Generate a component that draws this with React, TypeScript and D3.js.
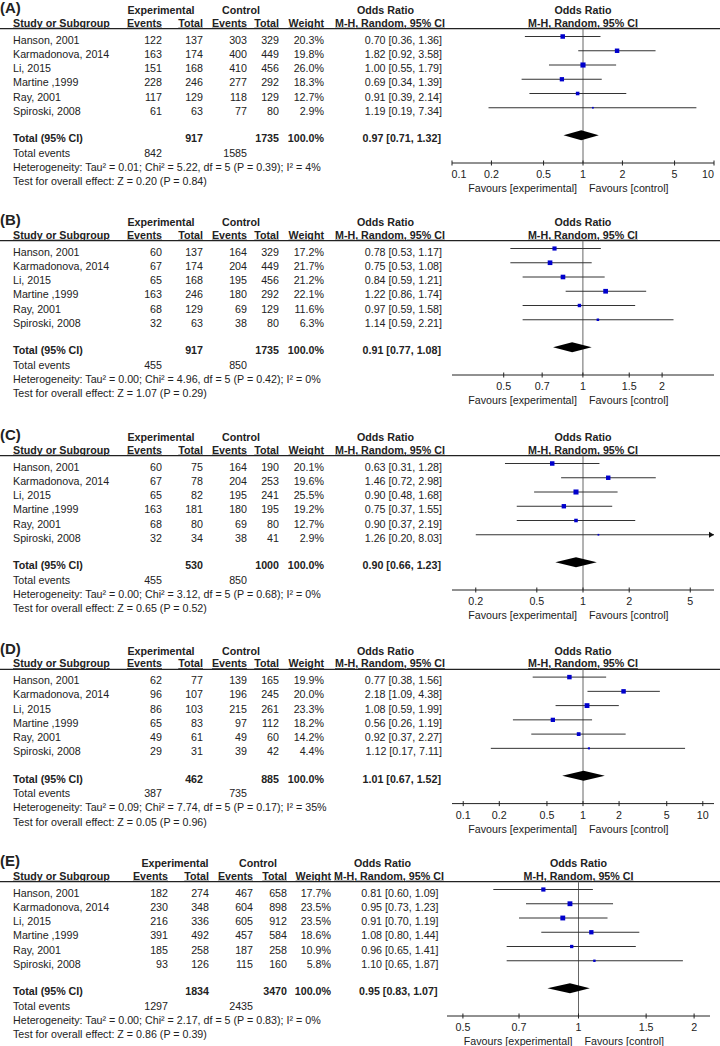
import React from 'react'
import * as d3 from 'd3'

const studies = ['Hanson, 2001', 'Karmadonova, 2014', 'Li, 2015', 'Martine ,1999', 'Ray, 2001', 'Spiroski, 2008']

// each row: [exp events, exp total, ctrl events, ctrl total, weight %, OR, lower, upper]
const rowsA = [
  [122, 137, 303, 329, 20.3, 0.70, 0.36, 1.36],
  [163, 174, 400, 449, 19.8, 1.82, 0.92, 3.58],
  [151, 168, 410, 456, 26.0, 1.00, 0.55, 1.79],
  [228, 246, 277, 292, 18.3, 0.69, 0.34, 1.39],
  [117, 129, 118, 129, 12.7, 0.91, 0.39, 2.14],
  [61, 63, 77, 80, 2.9, 1.19, 0.19, 7.34],
]
const rowsB = [
  [60, 137, 164, 329, 17.2, 0.78, 0.53, 1.17],
  [67, 174, 204, 449, 21.7, 0.75, 0.53, 1.08],
  [65, 168, 195, 456, 21.2, 0.84, 0.59, 1.21],
  [163, 246, 180, 292, 22.1, 1.22, 0.86, 1.74],
  [68, 129, 69, 129, 11.6, 0.97, 0.59, 1.58],
  [32, 63, 38, 80, 6.3, 1.14, 0.59, 2.21],
]
const rowsC = [
  [60, 75, 164, 190, 20.1, 0.63, 0.31, 1.28],
  [67, 78, 204, 253, 19.6, 1.46, 0.72, 2.98],
  [65, 82, 195, 241, 25.5, 0.90, 0.48, 1.68],
  [163, 181, 180, 195, 19.2, 0.75, 0.37, 1.55],
  [68, 80, 69, 80, 12.7, 0.90, 0.37, 2.19],
  [32, 34, 38, 41, 2.9, 1.26, 0.20, 8.03],
]
const rowsD = [
  [62, 77, 139, 165, 19.9, 0.77, 0.38, 1.56],
  [96, 107, 196, 245, 20.0, 2.18, 1.09, 4.38],
  [86, 103, 215, 261, 23.3, 1.08, 0.59, 1.99],
  [65, 83, 97, 112, 18.2, 0.56, 0.26, 1.19],
  [49, 61, 49, 60, 14.2, 0.92, 0.37, 2.27],
  [29, 31, 39, 42, 4.4, 1.12, 0.17, 7.11],
]
const rowsE = [
  [182, 274, 467, 658, 17.7, 0.81, 0.60, 1.09],
  [230, 348, 604, 898, 23.5, 0.95, 0.73, 1.23],
  [216, 336, 605, 912, 23.5, 0.91, 0.70, 1.19],
  [391, 492, 457, 584, 18.6, 1.08, 0.80, 1.44],
  [185, 258, 187, 258, 10.9, 0.96, 0.65, 1.41],
  [93, 126, 115, 160, 5.8, 1.10, 0.65, 1.87],
]

// totals: [exp total, ctrl total, exp events, ctrl events, OR, lower, upper]
const totalA = [917, 1735, 842, 1585, 0.97, 0.71, 1.32]
const totalB = [917, 1735, 455, 850, 0.91, 0.77, 1.08]
const totalC = [530, 1000, 455, 850, 0.90, 0.66, 1.23]
const totalD = [462, 885, 387, 735, 1.01, 0.67, 1.52]
const totalE = [1834, 3470, 1297, 2435, 0.95, 0.83, 1.07]

const statsA = ['Heterogeneity: Tau² = 0.01; Chi² = 5.22, df = 5 (P = 0.39); I² = 4%', 'Test for overall effect: Z = 0.20 (P = 0.84)']
const statsB = ['Heterogeneity: Tau² = 0.00; Chi² = 4.96, df = 5 (P = 0.42); I² = 0%', 'Test for overall effect: Z = 1.07 (P = 0.29)']
const statsC = ['Heterogeneity: Tau² = 0.00; Chi² = 3.12, df = 5 (P = 0.68); I² = 0%', 'Test for overall effect: Z = 0.65 (P = 0.52)']
const statsD = ['Heterogeneity: Tau² = 0.09; Chi² = 7.74, df = 5 (P = 0.17); I² = 35%', 'Test for overall effect: Z = 0.05 (P = 0.96)']
const statsE = ['Heterogeneity: Tau² = 0.00; Chi² = 2.17, df = 5 (P = 0.83); I² = 0%', 'Test for overall effect: Z = 0.86 (P = 0.39)']

const ticksA = [0.1, 0.2, 0.5, 1, 2, 5, 10]
const ticksB = [0.5, 0.7, 1, 1.5, 2]
const ticksC = [0.2, 0.5, 1, 2, 5]
const ticksD = [0.1, 0.2, 0.5, 1, 2, 5, 10]
const ticksE = [0.5, 0.7, 1, 1.5, 2]

const domainA = [0.1, 10]
const domainB = [0.318, 3.15]
const domainC = [0.14, 7.14]
const domainD = [0.0806, 12.4]
const domainE = [0.4545, 2.2]

const FONT = '"Liberation Sans", Arial, Helvetica, sans-serif'
const INK = '#222'
const BLUE = '#0000cc'
const FS = 10.7

const colsMain = {
  expEv: 162, expTot: 203, ctrlEv: 247, ctrlTot: 279, weight: 324,
  orRight: 442, orHead: 357, mhHead: 335, expHead: 161, ctrlHead: 241,
  range: [452, 714],
}
const colsE = {
  expEv: 168, expTot: 209, ctrlEv: 253, ctrlTot: 287, weight: 331,
  orRight: 438.5, orHead: 354, mhHead: 334, expHead: 175, ctrlHead: 258,
  range: [447, 710],
}

const panels = [
  { label: '(A)', y: 28.7, rows: rowsA, total: totalA, stats: statsA, ticks: ticksA, domain: domainA, cols: colsMain },
  { label: '(B)', y: 240.7, rows: rowsB, total: totalB, stats: statsB, ticks: ticksB, domain: domainB, cols: colsMain },
  { label: '(C)', y: 455.7, rows: rowsC, total: totalC, stats: statsC, ticks: ticksC, domain: domainC, cols: colsMain },
  { label: '(D)', y: 669.3, rows: rowsD, total: totalD, stats: statsD, ticks: ticksD, domain: domainD, cols: colsMain },
  { label: '(E)', y: 881.7, rows: rowsE, total: totalE, stats: statsE, ticks: ticksE, domain: domainE, cols: colsE },
]

const fmt2 = (v: number) => v.toFixed(2)
const orText = (o: number, l: number, u: number) => `${fmt2(o)} [${fmt2(l)}, ${fmt2(u)}]`

function T({ x, y, anchor = 'start', bold = false, under = false, size = FS, children }: any) {
  return (
    <text
      x={x}
      y={y}
      textAnchor={anchor}
      fontWeight={bold ? 'bold' : 'normal'}
      fontSize={size}
      fill={INK}
      style={under ? { textDecoration: 'underline' } : undefined}
    >
      {children}
    </text>
  )
}

function Panel({ p }: any) {
  const c = p.cols
  const y0 = p.y
  const x = d3.scaleLog().domain(p.domain).range(c.range)
  const [r0, r1] = c.range
  const cx = x(1)
  const rowY = (i: number) => y0 + 7.8 + 14.25 * i
  const diamondY = y0 + 106.5
  const axisY = y0 + 134.3
  const [tExp, tCtrl, eExp, eCtrl, tOr, tLo, tHi] = p.total

  const diamond = d3.line()([
    [x(tLo), diamondY],
    [x(tOr), diamondY - 5],
    [x(tHi), diamondY],
    [x(tOr), diamondY + 5],
  ]) + 'Z'

  return (
    <g>
      <T x={0} y={y0 - 15.5} bold size={15}>{p.label}</T>
      {/* header row 1 */}
      <T x={c.expHead} y={y0 - 14.5} anchor="middle" bold>Experimental</T>
      <T x={c.ctrlHead} y={y0 - 14.5} anchor="middle" bold>Control</T>
      <T x={c.orHead} y={y0 - 14.5} bold>Odds Ratio</T>
      <T x={cx} y={y0 - 14.5} anchor="middle" bold>Odds Ratio</T>
      {/* header row 2 */}
      <T x={13} y={y0 - 2} bold under>Study or Subgroup</T>
      <T x={c.expEv} y={y0 - 2} anchor="end" bold under>Events</T>
      <T x={c.expTot} y={y0 - 2} anchor="end" bold under>Total</T>
      <T x={c.ctrlEv} y={y0 - 2} anchor="end" bold under>Events</T>
      <T x={c.ctrlTot} y={y0 - 2} anchor="end" bold under>Total</T>
      <T x={c.weight} y={y0 - 2} anchor="end" bold under>Weight</T>
      <T x={c.mhHead} y={y0 - 2} bold under>M-H, Random, 95% CI</T>
      <T x={cx} y={y0 - 2} anchor="middle" bold under>M-H, Random, 95% CI</T>
      <line x1={0} x2={720} y1={y0} y2={y0} stroke={INK} strokeWidth={1.3} />

      {/* vertical line of no effect */}
      <line x1={cx} x2={cx} y1={y0} y2={axisY} stroke="#666" strokeWidth={1} />

      {p.rows.map((r: number[], i: number) => {
        const my = rowY(i)
        const ty = my + 7
        const s = Math.max(1.6, Math.sqrt(r[4]))
        const lo = Math.max(r[6], p.domain[0])
        const hi = Math.min(r[7], p.domain[1])
        const clipR = r[7] > p.domain[1]
        return (
          <g key={i}>
            <T x={13} y={ty}>{studies[i]}</T>
            <T x={c.expEv} y={ty} anchor="end">{r[0]}</T>
            <T x={c.expTot} y={ty} anchor="end">{r[1]}</T>
            <T x={c.ctrlEv} y={ty} anchor="end">{r[2]}</T>
            <T x={c.ctrlTot} y={ty} anchor="end">{r[3]}</T>
            <T x={c.weight} y={ty} anchor="end">{r[4].toFixed(1)}%</T>
            <T x={c.orRight} y={ty} anchor="end">{orText(r[5], r[6], r[7])}</T>
            <line x1={x(lo)} x2={x(hi)} y1={my} y2={my} stroke="#333" strokeWidth={1} />
            {clipR && (
              <path d={`M${x(hi)},${my}l-5,-3v6z`} fill="#111" />
            )}
            <rect x={x(r[5]) - s / 2} y={my - s / 2} width={s} height={s} fill={BLUE} />
          </g>
        )
      })}

      {/* totals */}
      <T x={13} y={y0 + 113.5} bold>Total (95% CI)</T>
      <T x={c.expTot} y={y0 + 113.5} anchor="end" bold>{tExp}</T>
      <T x={c.ctrlTot} y={y0 + 113.5} anchor="end" bold>{tCtrl}</T>
      <T x={c.weight} y={y0 + 113.5} anchor="end" bold>100.0%</T>
      <T x={c.orRight - 1} y={y0 + 113.5} anchor="end" bold>{orText(tOr, tLo, tHi)}</T>
      <path d={diamond} fill="#000" />

      <T x={13} y={y0 + 128}>Total events</T>
      <T x={c.expEv} y={y0 + 128} anchor="end">{eExp}</T>
      <T x={c.ctrlEv} y={y0 + 128} anchor="end">{eCtrl}</T>
      <T x={13} y={y0 + 142}>{p.stats[0]}</T>
      <T x={13} y={y0 + 156.3}>{p.stats[1]}</T>

      {/* axis */}
      <line x1={r0} x2={r1} y1={axisY} y2={axisY} stroke={INK} strokeWidth={1} />
      {p.ticks.map((t: number) => (
        <g key={t}>
          <line x1={x(t)} x2={x(t)} y1={axisY - 2.5} y2={axisY + 2.5} stroke={INK} strokeWidth={1} />
          <T x={Math.min(r1 - 6, Math.max(r0 + 7, x(t)))} y={axisY + 15.3} anchor="middle">{String(t)}</T>
        </g>
      ))}
      <T x={cx - 6} y={axisY + 29} anchor="end">Favours [experimental]</T>
      <T x={cx + 6} y={axisY + 29}>Favours [control]</T>
    </g>
  )
}

export default function App() {
  return (
    <svg
      width={720}
      height={1046}
      style={{ position: 'absolute', left: 0, top: 0, background: '#fff', fontFamily: FONT }}
    >
      <rect width={720} height={1046} fill="#fff" />
      {panels.map((p) => (
        <Panel key={p.label} p={p} />
      ))}
    </svg>
  )
}
